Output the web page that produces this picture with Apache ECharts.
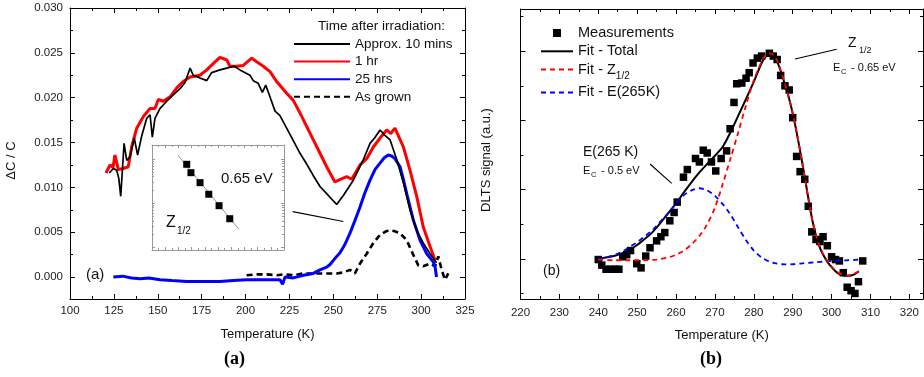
<!DOCTYPE html>
<html><head><meta charset="utf-8">
<script src="https://cdn.jsdelivr.net/npm/echarts@6/dist/echarts.min.js"></script>
<style>html,body{margin:0;padding:0;background:#fff}#c{width:924px;height:377px}</style>
</head><body><div id="c"></div>
<script>
// ---------- Panel (a): ΔC/C vs Temperature ----------
const approx10min = [[122.4,0.0116],[124.7,0.0121],[126.6,0.0119],[127.8,0.0110],[128.9,0.0090],[129.8,0.0118],[130.8,0.0149],[132.3,0.0130],[134.2,0.0134],[136.6,0.0155],[138.5,0.0136],[140.8,0.0157],[143.7,0.0177],[145.6,0.0181],[146.9,0.0156],[148.4,0.0177],[151.3,0.0188],[155.1,0.0196],[158.8,0.0203],[162.7,0.0210],[165.5,0.0217],[168.4,0.0233],[170.2,0.0225],[174.0,0.0222],[177.9,0.0219],[180.7,0.0228],[185.4,0.0231],[189.3,0.0233],[193.5,0.0235],[196.8,0.0231],[200.6,0.0227],[202.5,0.0225],[204.4,0.0219],[207.2,0.0216],[209.6,0.0206],[211.5,0.0214],[213.9,0.0201],[216.8,0.0185],[219.6,0.0180],[223.4,0.0166],[227.2,0.0152],[231.0,0.0138],[234.8,0.0126],[238.6,0.0113],[242.4,0.0101],[246.2,0.0093],[249.0,0.0087],[251.9,0.0081],[255.7,0.0091],[261.4,0.0108],[267.1,0.0131],[270.9,0.0149],[273.5,0.0155],[276.6,0.0164],[279.4,0.0158],[282.3,0.0153],[286.1,0.0131],[289.9,0.0105],[293.7,0.0075],[297.5,0.0052],[301.2,0.0038],[305.1,0.0026],[308.8,0.0016]];
const oneHour = [[120.5,0.0116],[122.8,0.0125],[124.5,0.0122],[125.6,0.0136],[127.5,0.0120],[130.4,0.0121],[133.2,0.0123],[135.1,0.0145],[138.0,0.0166],[141.8,0.0179],[145.6,0.0188],[148.4,0.0188],[150.3,0.0198],[153.1,0.0196],[157.0,0.0201],[160.8,0.0211],[164.5,0.0218],[168.4,0.0223],[174.0,0.0225],[177.9,0.0231],[181.6,0.0238],[185.4,0.0245],[189.3,0.0242],[191.1,0.0235],[194.9,0.0235],[198.7,0.0236],[203.5,0.0244],[206.3,0.0240],[210.1,0.0235],[213.9,0.0229],[217.7,0.0218],[223.4,0.0205],[227.2,0.0197],[231.0,0.0183],[234.8,0.0168],[238.6,0.0153],[242.4,0.0138],[246.2,0.0123],[250.9,0.0106],[254.0,0.0109],[257.6,0.0112],[260.5,0.0109],[265.2,0.0125],[269.0,0.0132],[272.8,0.0145],[276.6,0.0155],[280.4,0.0164],[282.7,0.0160],[285.1,0.0166],[289.9,0.0145],[293.7,0.0119],[297.5,0.0090],[301.2,0.0056],[305.1,0.0034],[307.9,0.0019]];
const twentyFiveHours = [[124.7,0.0000],[130.0,0.0001],[135.0,-0.0001],[140.0,-0.0002],[145.0,-0.0001],[151.3,-0.0003],[158.0,-0.0004],[166.5,-0.0005],[175.0,-0.0005],[185.4,-0.0005],[193.0,-0.0004],[200.6,-0.0003],[210.0,-0.0003],[219.6,-0.0003],[220.5,-0.0001],[221.1,-0.0008],[222.5,0.0000],[227.2,-0.0001],[232.9,0.0002],[238.6,0.0004],[242.4,0.0008],[246.2,0.0011],[248.1,0.0014],[251.9,0.0023],[253.8,0.0027],[256.5,0.0036],[259.5,0.0049],[262.3,0.0063],[265.2,0.0078],[268.0,0.0094],[270.9,0.0108],[273.8,0.0120],[276.6,0.0127],[279.0,0.0133],[281.3,0.0136],[283.2,0.0135],[285.1,0.0132],[288.0,0.0123],[290.0,0.0108],[291.8,0.0093],[293.7,0.0078],[295.5,0.0064],[299.4,0.0041],[303.2,0.0026],[306.9,0.0017],[307.9,0.0012],[308.8,0.0000]];
const asGrown = [[200.6,0.0002],[206.0,0.0003],[212.0,0.0003],[218.0,0.0002],[222.0,0.0003],[227.2,0.0002],[232.9,0.0004],[240.5,0.0004],[246.2,0.0004],[251.9,0.0004],[255.5,0.0005],[259.5,0.0008],[262.3,0.0004],[265.2,0.0015],[269.0,0.0026],[272.8,0.0038],[276.6,0.0047],[280.0,0.0051],[282.3,0.0052],[285.0,0.0051],[288.0,0.0049],[291.8,0.0041],[295.5,0.0025],[298.4,0.0013],[301.2,0.0012],[305.1,0.0015],[307.9,0.0012],[309.8,0.0023],[311.7,0.0008],[313.6,-0.0003],[315.5,0.0004]];
const aXTicks = [100,125,150,175,200,225,250,275,300,325];
const aXMinor = [112.5,137.5,162.5,187.5,212.5,237.5,262.5,287.5,312.5];
const aYTicks = [0,0.005,0.010,0.015,0.020,0.025,0.030];
const aYMinor = [0.0025,0.0075,0.0125,0.0175,0.0225,0.0275];

// inset (Arrhenius plot): x = 1000/T, y log scale
const insetPoints = [[3.563,75.9],[3.595,49.1],[3.664,29.2],[3.730,16.0],[3.808,8.83],[3.889,4.49]];
const insetFit = [[3.495,123],[3.959,2.59]];
const insetXTicks = [3.3,3.4,3.5,3.6,3.7,3.8,3.9,4.0,4.1,4.2,4.3];
const insetXMinor = [3.35,3.45,3.55,3.65,3.75,3.85,3.95,4.05,4.15,4.25];
const insetYTicks = [1,10,100];
const insetYMinor = [2,3,4,5,6,7,8,9,20,30,40,50,60,70,80,90,200];

// ---------- Panel (b): DLTS signal ----------
const measurements = [[240.0,-0.01],[240.9,-0.09],[242.0,-0.15],[243.2,-0.15],[244.3,-0.15],[245.3,-0.15],[246.3,0.03],[247.3,0.06],[248.3,0.12],[249.9,-0.07],[251.0,-0.13],[252.2,0.04],[253.3,0.16],[255.0,0.26],[256.1,0.32],[257.1,0.38],[258.4,0.55],[259.5,0.67],[260.3,0.82],[261.9,1.18],[262.9,1.29],[265.0,1.45],[266.0,1.40],[267.0,1.57],[268.0,1.53],[269.1,1.40],[270.2,1.27],[271.6,1.45],[273.0,1.56],[273.9,1.88],[274.9,2.26],[275.6,2.53],[276.9,2.54],[278.0,2.61],[278.8,2.69],[279.8,2.83],[280.9,2.90],[282.0,2.93],[284.0,2.97],[285.0,2.93],[286.0,2.88],[286.9,2.65],[288.0,2.50],[289.1,2.44],[290.0,2.04],[291.0,1.48],[291.9,1.26],[293.1,1.15],[294.0,0.76],[294.9,0.39],[296.0,0.28],[297.0,0.25],[297.8,0.32],[298.9,0.19],[300.0,0.03],[301.0,-0.01],[302.0,-0.03],[303.0,-0.20],[304.0,-0.41],[305.0,-0.46],[306.0,-0.50],[306.9,-0.33],[308.0,-0.03]];
const fitTotal = [[240,0.0],[242,0.02],[244,0.04],[246,0.08],[248,0.13],[250,0.2],[252,0.29],[254,0.39],[256,0.52],[258,0.66],[260,0.80],[262,0.96],[264,1.11],[266,1.25],[268,1.37],[270,1.49],[272,1.62],[274,1.83],[276,2.07],[278,2.31],[280,2.56],[282,2.83],[283,2.92],[284,2.96],[285,2.94],[286,2.85],[287,2.70],[288,2.52],[289,2.33],[290,2.10],[291,1.83],[292,1.53],[293,1.21],[294,0.88],[295,0.57],[296,0.33],[297,0.16],[298,0.04],[299,-0.05],[300,-0.12],[301,-0.18],[302,-0.22],[303,-0.24],[304,-0.245],[305,-0.24],[306,-0.22],[307,-0.18]];
const fitZ = [[240,-0.01],[244,-0.02],[248,-0.02],[252,-0.02],[255,-0.01],[258,0.02],[260,0.06],[262,0.12],[264,0.21],[266,0.33],[268,0.5],[270,0.74],[272,1.08],[274,1.45],[276,1.83],[278,2.22],[280,2.58],[282,2.85],[283,2.94],[284,2.97],[285,2.95],[286,2.86],[287,2.71],[288,2.53],[289,2.33],[290,2.10],[291,1.83],[292,1.53],[293,1.21],[294,0.88],[295,0.57],[296,0.34],[297,0.17],[298,0.05],[299,-0.04],[300,-0.11],[301,-0.17],[302,-0.21],[303,-0.23],[304,-0.24],[305,-0.23],[306,-0.21],[307,-0.18]];
const fitE = [[240,0.0],[242,0.02],[244,0.05],[246,0.1],[248,0.17],[250,0.24],[252,0.33],[254,0.42],[256,0.54],[258,0.66],[260,0.80],[262,0.92],[264,0.99],[266,1.02],[268,0.99],[270,0.91],[272,0.79],[274,0.64],[276,0.45],[278,0.27],[280,0.12],[282,0.02],[284,-0.04],[286,-0.07],[288,-0.08],[290,-0.078],[292,-0.068],[294,-0.058],[296,-0.048],[298,-0.04],[300,-0.03],[302,-0.024],[304,-0.02],[306,-0.015],[307.5,-0.01]];
const bXTicks = [220,230,240,250,260,270,280,290,300,310,320];
const bXMinor = [225,235,245,255,265,275,285,295,305,315];
const bYTicks = [0,1,2,3];
const bYMinor = [-0.5,0.5,1.5,2.5,3.5];

const FONT = "'Liberation Sans', Arial, sans-serif";
const xAxes = [], yAxes = [];
function framed(list, grid, pMain, pMirror, o) {
  const base = {type: o.type || 'value', gridIndex: grid, min: o.min, max: o.max, splitLine: {show: false}, z: o.z || 0};
  const lc = {color: o.color || '#000', width: 1};
  const idx = list.length;
  list.push(Object.assign({}, base, {
    position: pMain, name: o.name || '', nameLocation: 'middle', nameGap: o.nameGap || 0,
    nameTextStyle: {fontFamily: FONT, fontSize: 13, color: '#111', padding: o.namePad || 0},
    axisLine: {show: true, onZero: false, lineStyle: lc},
    axisTick: {show: true, inside: true, length: o.len, customValues: o.major, lineStyle: lc},
    axisLabel: o.labels ? {show: true, customValues: o.major, formatter: o.fmt, fontFamily: FONT, fontSize: 11.5, color: '#222', margin: o.margin} : {show: false}
  }));
  list.push(Object.assign({}, base, {position: pMirror, axisLine: {show: true, onZero: false, lineStyle: lc},
    axisTick: {show: true, inside: true, length: o.len, customValues: o.major, lineStyle: lc}, axisLabel: {show: false}}));
  [pMain, pMirror].forEach(p => list.push(Object.assign({}, base, {position: p, axisLine: {show: false, onZero: false},
    axisTick: {show: true, inside: true, length: o.minLen, customValues: o.minor, lineStyle: lc}, axisLabel: {show: false}})));
  return idx;
}
const axA_x = framed(xAxes, 0, 'bottom', 'top', {min: 100, max: 325, major: aXTicks, minor: aXMinor, len: 5, minLen: 3, labels: true, fmt: v => String(v), margin: 6, name: 'Temperature (K)', nameGap: 29});
const axA_y = framed(yAxes, 0, 'left', 'right', {min: -0.00245, max: 0.030, major: aYTicks, minor: aYMinor, len: 5, minLen: 3, labels: true, fmt: v => v.toFixed(3), margin: 7, name: 'ΔC / C', nameGap: 52, namePad: [0, 14, 0, 0]});
const axB_x = framed(xAxes, 1, 'bottom', 'top', {min: 220, max: 323.5, major: bXTicks, minor: bXMinor, len: 5, minLen: 3, labels: true, fmt: v => String(v), margin: 8, name: 'Temperature (K)', nameGap: 30});
const axB_y = framed(yAxes, 1, 'left', 'right', {min: -0.58, max: 3.61, major: bYTicks, minor: bYMinor, len: 5, minLen: 3, labels: false, name: 'DLTS signal (a.u.)', nameGap: 28, namePad: [0, 12, 0, 0]});
const axI_x = framed(xAxes, 2, 'bottom', 'top', {min: 3.3, max: 4.3, major: insetXTicks, minor: insetXMinor, len: 3, minLen: 2, labels: false, color: '#999', z: 6});
const axI_y = framed(yAxes, 2, 'left', 'right', {type: 'log', min: 0.883, max: 207, major: insetYTicks, minor: insetYMinor, len: 3, minLen: 2, labels: false, color: '#999', z: 6});

const lineS = (name, data, color, width, xi, yi, type, extra) => Object.assign({
  name, type: 'line', data, xAxisIndex: xi, yAxisIndex: yi, symbol: 'none', showSymbol: false,
  lineStyle: {color, width, type: type || 'solid'}, itemStyle: {color}, animation: false, z: 3
}, extra || {});
const noSym = n => ({name: n, itemStyle: {opacity: 0}});
const SQUARE = 'path://M0,0L10,0L10,10L0,10Z';

const option = {
  animation: false,
  grid: [
    {left: 70, top: 8, width: 395, height: 291},
    {left: 520.5, top: 9, width: 402.5, height: 290},
    {left: 152, top: 145, width: 132, height: 105, backgroundColor: '#fff', show: true, borderWidth: 0, z: 5}
  ],
  xAxis: xAxes, yAxis: yAxes,
  legend: [
    {left: 293, top: 37, padding: 0, orient: 'vertical', itemWidth: 56, itemHeight: 14, itemGap: 3.6, itemStyle: {opacity: 0},
     textStyle: {fontFamily: FONT, fontSize: 13.5, color: '#111'},
     data: ['Approx. 10 mins', '1 hr', '25 hrs', 'As grown']},
    {left: 540, top: 25.5, padding: 0, orient: 'vertical', itemWidth: 32, itemHeight: 8, itemGap: 3.3, symbolKeepAspect: true,
     textStyle: {fontFamily: FONT, fontSize: 14.5, color: '#111', rich: {s: {fontFamily: FONT, fontSize: 10, color: '#111', padding: [14, 0, 0, 0]}}},
     formatter: n => n === 'Fit - Z1/2' ? 'Fit - Z{s|1/2}' : n,
     data: [{name: 'Measurements', icon: SQUARE, itemStyle: {color: '#000', opacity: 1}}, noSym('Fit - Total'), noSym('Fit - Z1/2'), noSym('Fit - E(265K)')]}
  ],
  series: [
    lineS('As grown', asGrown, '#000', 2.6, axA_x, axA_y, [6, 4]),
    lineS('25 hrs', twentyFiveHours, '#0000ff', 3, axA_x, axA_y),
    lineS('1 hr', oneHour, '#ff0000', 3, axA_x, axA_y),
    lineS('Approx. 10 mins', approx10min, '#000', 1.7, axA_x, axA_y),
    {name: 'Measurements', type: 'scatter', data: measurements, xAxisIndex: axB_x, yAxisIndex: axB_y, symbol: 'rect', symbolSize: 7.5, itemStyle: {color: '#000', opacity: 1}, z: 2},
    lineS('Fit - E(265K)', fitE, '#0000ff', 1.8, axB_x, axB_y, [5, 4], {smooth: 0.3}),
    lineS('Fit - Z1/2', fitZ, '#ff0000', 1.8, axB_x, axB_y, [5, 4], {smooth: 0.3}),
    lineS('Fit - Total', fitTotal, '#000', 2, axB_x, axB_y, 'solid', {smooth: 0.3, z: 2}),
    lineS('inset fit', insetFit, '#777', 0.8, axI_x, axI_y, 'solid', {z: 6}),
    {name: 'inset points', type: 'scatter', data: insetPoints, xAxisIndex: axI_x, yAxisIndex: axI_y, symbol: 'rect', symbolSize: 7, itemStyle: {color: '#000', opacity: 1}, z: 7}
  ],
  graphic: [
    {type: 'text', left: 318, top: 19, style: {text: 'Time after irradiation:', font: '13.5px ' + FONT, fill: '#111'}},
    {type: 'text', left: 86, top: 267, style: {text: '(a)', font: '15px ' + FONT, fill: '#111'}},
    {type: 'line', shape: {x1: 292.7, y1: 211.7, x2: 343.3, y2: 221.5}, style: {stroke: '#000', lineWidth: 1.2}, z: 10},
    {type: 'text', left: 221, top: 171, z: 10, style: {text: '0.65 eV', font: '15px ' + FONT, fill: '#111'}},
    {type: 'text', left: 166, top: 215, z: 10, style: {text: 'Z', font: '16px ' + FONT, fill: '#111'}},
    {type: 'text', left: 177, top: 226, z: 10, style: {text: '1/2', font: '10px ' + FONT, fill: '#111'}},
    {type: 'text', left: 224, top: 350, style: {text: '(a)', font: 'bold 18px "Liberation Serif", "Times New Roman", serif', fill: '#000'}},
    {type: 'text', left: 700, top: 350, style: {text: '(b)', font: 'bold 18px "Liberation Serif", "Times New Roman", serif', fill: '#000'}},
    {type: 'text', left: 543, top: 264, style: {text: '(b)', font: '14px ' + FONT, fill: '#111'}},
    {type: 'line', shape: {x1: 795, y1: 59, x2: 836.7, y2: 49.3}, style: {stroke: '#000', lineWidth: 1.1}},
    {type: 'text', left: 848, top: 36, style: {text: 'Z', font: '14px ' + FONT, fill: '#111'}},
    {type: 'text', left: 859, top: 46, style: {text: '1/2', font: '9px ' + FONT, fill: '#111'}},
    {type: 'text', left: 833, top: 62, style: {text: 'E', font: '11px ' + FONT, fill: '#111'}},
    {type: 'text', left: 841, top: 68, style: {text: 'C', font: '7.5px ' + FONT, fill: '#111'}},
    {type: 'text', left: 848, top: 62, style: {text: ' - 0.65 eV', font: '11px ' + FONT, fill: '#111'}},
    {type: 'line', shape: {x1: 650, y1: 164, x2: 671.7, y2: 183.3}, style: {stroke: '#000', lineWidth: 1.1}},
    {type: 'text', left: 583, top: 145, style: {text: 'E(265 K)', font: '14px ' + FONT, fill: '#111'}},
    {type: 'text', left: 583, top: 165, style: {text: 'E', font: '11px ' + FONT, fill: '#111'}},
    {type: 'text', left: 591, top: 171, style: {text: 'C', font: '7.5px ' + FONT, fill: '#111'}},
    {type: 'text', left: 598, top: 165, style: {text: ' - 0.5 eV', font: '11px ' + FONT, fill: '#111'}}
  ]
};
const chart = echarts.init(document.getElementById('c'), null, {renderer: 'canvas'});
chart.setOption(option);
</script></body></html>
